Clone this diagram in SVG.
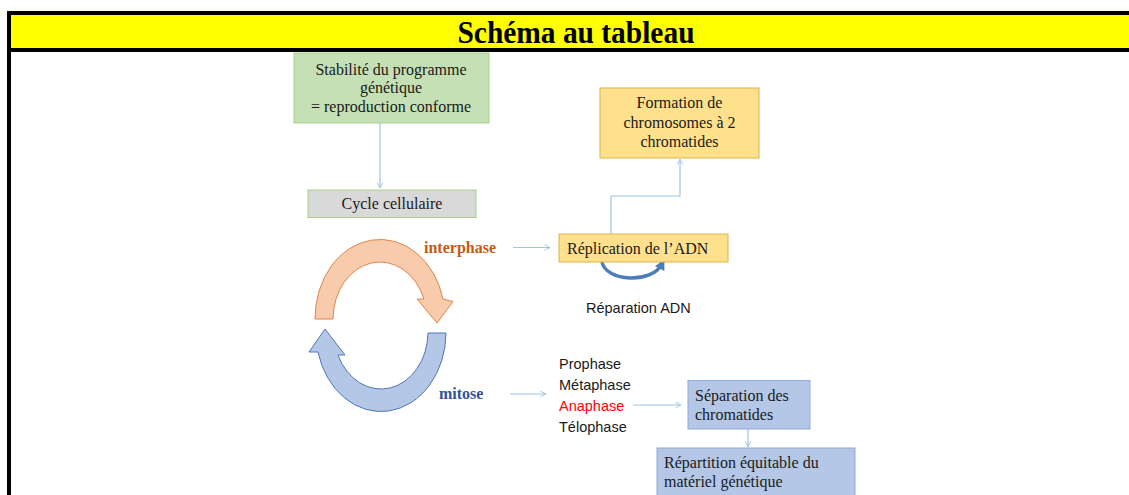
<svg xmlns="http://www.w3.org/2000/svg" width="1129" height="495" viewBox="0 0 1129 495">
<style>
.serif{font-family:"Liberation Serif","Times New Roman",serif;font-size:16px;fill:#1a1a1a}
.sans{font-family:"Liberation Sans",Arial,sans-serif;font-size:14.5px;fill:#1a1a1a}
.conn{fill:none;stroke:#9dc3e6;stroke-width:1.2}
.green{fill:#c5e0b4;stroke:#a9d18e;stroke-width:1}
.gray{fill:#d9d9d9;stroke:#a9d18e;stroke-width:1}
.gold{fill:#ffe08c;stroke:#d9b44a;stroke-width:1}
.blue{fill:#b4c7e7;stroke:#8faadc;stroke-width:1}
</style>
<defs>
<marker id="ah" viewBox="0 0 10 10" refX="9" refY="5" markerWidth="7" markerHeight="7" orient="auto" markerUnits="userSpaceOnUse">
<path d="M1,1 L9,5 L1,9" fill="none" stroke="#9dc3e6" stroke-width="1.3"/>
</marker>
<marker id="ahb" viewBox="0 0 10 10" refX="5" refY="5" markerWidth="3" markerHeight="3" orient="auto">
<path d="M0,0 L10,5 L0,10 Z" fill="#4a7ebb"/>
</marker>
</defs>
<rect width="1129" height="495" fill="#ffffff"/>
<g id="header">
<rect x="11" y="15" width="1118" height="33" fill="#ffff00"/>
<rect x="7" y="11" width="1122" height="4" fill="#000"/>
<rect x="7" y="48" width="1122" height="4" fill="#000"/>
<rect x="7" y="11" width="4" height="484" fill="#000"/>
<text x="576" y="43" text-anchor="middle" textLength="237" lengthAdjust="spacingAndGlyphs" style="font-family:'Liberation Serif','Times New Roman',serif;font-size:31px;font-weight:bold;fill:#000">Schéma au tableau</text>
</g>
<g id="connectors">
<line class="conn" x1="380" y1="123" x2="380" y2="188" marker-end="url(#ah)"/>
<line class="conn" x1="513" y1="247.5" x2="550" y2="247.5" marker-end="url(#ah)"/>
<polyline class="conn" points="611,234 611,196 680,196 680,159" marker-end="url(#ah)"/>
<line class="conn" x1="510" y1="394" x2="546" y2="394" marker-end="url(#ah)"/>
<line class="conn" x1="633" y1="405" x2="681" y2="405" marker-end="url(#ah)"/>
<line class="conn" x1="748" y1="429" x2="748" y2="447" marker-end="url(#ah)"/>
<path d="M602,262 C606,282 652,284 662,264" fill="none" stroke="#4a7ebb" stroke-width="3.5" marker-end="url(#ahb)"/>
</g>
<g id="cycle">
<path d="M315,319 A65,79 0 0 1 443,299 L453,301.5 L437,323 L417,299 L424,299 A47,57 0 0 0 333,319 Z" fill="#f8cbad" stroke="#e0844a" stroke-width="1"/>
<path d="M446,333 A65,79 0 0 1 318,352 L309,352 L325,329 L345,355 L338,355 A47,57 0 0 0 428,333 Z" fill="#b4c7e7" stroke="#4f76b8" stroke-width="1"/>
</g>
<g id="n-stabilite">
<rect class="green" x="294" y="53" width="195" height="70"/>
<text class="serif" text-anchor="middle"><tspan x="391" y="74.5">Stabilité du programme</tspan><tspan x="391" y="93">génétique</tspan><tspan x="391" y="111.5">= reproduction conforme</tspan></text>
</g>
<g id="n-cycle">
<rect class="gray" x="308" y="190" width="168" height="27.5"/>
<text class="serif" x="392" y="208.5" text-anchor="middle">Cycle cellulaire</text>
</g>
<g id="n-interphase">
<text x="424" y="252.5" style="font-family:'Liberation Serif','Times New Roman',serif;font-size:16px;font-weight:bold;fill:#c55a11">interphase</text>
</g>
<g id="n-mitose">
<text x="439" y="399" style="font-family:'Liberation Serif','Times New Roman',serif;font-size:16px;font-weight:bold;fill:#2f5597">mitose</text>
</g>
<g id="n-formation">
<rect class="gold" x="600" y="88" width="159" height="70"/>
<text class="serif" text-anchor="middle"><tspan x="679.5" y="108">Formation de</tspan><tspan x="679.5" y="127.5">chromosomes à 2</tspan><tspan x="679.5" y="147">chromatides</tspan></text>
</g>
<g id="n-replication">
<rect class="gold" x="559" y="234" width="169" height="28"/>
<text class="serif" x="567" y="253.5">Réplication de l’ADN</text>
</g>
<g id="n-reparation">
<text class="sans" x="586" y="313">Réparation ADN</text>
</g>
<g id="n-phases">
<text class="sans" x="559" y="368.5">Prophase</text>
<text class="sans" x="559" y="389.5">Métaphase</text>
<text class="sans" x="559" y="410.5" style="fill:#ff0000">Anaphase</text>
<text class="sans" x="559" y="431.5">Télophase</text>
</g>
<g id="n-separation">
<rect class="blue" x="688" y="380.5" width="122" height="48.5"/>
<text class="serif"><tspan x="695" y="400.5">Séparation des</tspan><tspan x="695" y="419.5">chromatides</tspan></text>
</g>
<g id="n-repartition">
<rect class="blue" x="657" y="448" width="198" height="60"/>
<text class="serif"><tspan x="664" y="468">Répartition équitable du</tspan><tspan x="664" y="487">matériel génétique</tspan></text>
</g>
</svg>
